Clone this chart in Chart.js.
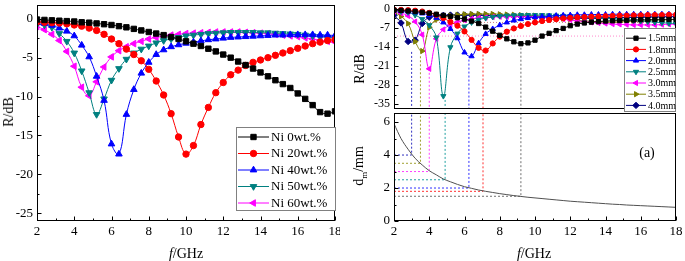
<!DOCTYPE html>
<html>
<head>
<meta charset="utf-8">
<script src="https://cdn.jsdelivr.net/npm/chart.js@4.4.0/dist/chart.umd.min.js"></script>
<style>
body{margin:0;background:#fff;width:685px;height:261px;overflow:hidden;position:relative;font-family:"Liberation Serif",serif}
canvas{position:absolute}
.t{position:absolute;font-size:14px;white-space:nowrap;transform:translate(-50%,-50%)}
.v{transform:translate(-50%,-50%) rotate(-90deg)}
sub{font-size:9px}
</style>
</head>
<body>
<canvas id="leftChart" width="340" height="261" style="left:0;top:0"></canvas>
<canvas id="lossChart" width="345" height="114" style="left:340px;top:0"></canvas>
<canvas id="thickChart" width="345" height="149" style="left:340px;top:112px"></canvas>
<div class="t v" style="left:9px;top:112px">R/dB</div>
<div class="t" style="left:186px;top:254px"><i>f</i>/GHz</div>
<div class="t v" style="left:360px;top:69px">R/dB</div>
<div class="t v" style="left:360px;top:166px">d<sub>m</sub>/mm</div>
<div class="t" style="left:534px;top:254px"><i>f</i>/GHz</div>
<div class="t" style="left:647px;top:153px">(a)</div>
<script>
// frequency points (GHz)
var freq = [2.0,2.4,2.8,3.2,3.6,4.0,4.4,4.8,5.2,5.6,6.0,6.4,6.8,7.2,7.6,8.0,8.4,8.8,9.2,9.6,10.0,
            10.4,10.8,11.2,11.6,12.0,12.4,12.8,13.2,13.6,14.0,14.4,14.8,15.2,15.6,16.0,16.4,16.8,17.2,17.6,18.0];

// left panel: reflection loss for Ni content
var ni0  = [-0.1,-0.15,-0.2,-0.25,-0.3,-0.35,-0.45,-0.5,-0.6,-0.7,-0.8,-0.95,-1.1,-1.3,-1.5,-1.7,-1.9,-2.1,-2.35,-2.6,-2.9,
            -3.2,-3.5,-3.85,-4.2,-4.6,-5.0,-5.5,-5.95,-6.4,-6.9,-7.4,-7.9,-8.4,-8.9,-9.6,-10.3,-11.1,-12.0,-12.2,-11.9];
var ni20 = [-0.4,-0.45,-0.5,-0.55,-0.65,-0.8,-0.95,-1.2,-1.5,-2.0,-2.6,-3.2,-3.9,-4.6,-5.4,-6.5,-8.0,-9.8,-12.2,-15.2,-17.4,
            -16.3,-13.6,-11.4,-9.5,-8.2,-7.2,-6.6,-6.0,-5.6,-5.3,-5.0,-4.7,-4.4,-4.1,-3.8,-3.5,-3.2,-3.0,-2.8,-2.7];
var ni40 = [-0.5,-0.6,-0.85,-1.2,-1.6,-2.2,-3.4,-4.9,-7.4,-10.5,-16.1,-17.4,-12.3,-9.1,-7.0,-5.6,-4.6,-4.0,-3.6,-3.35,-3.15,
            -3.0,-2.85,-2.7,-2.6,-2.5,-2.4,-2.35,-2.3,-2.25,-2.2,-2.15,-2.1,-2.1,-2.05,-2.05,-2.05,-2.05,-2.1,-2.1,-2.15];
var ni50 = [-0.7,-0.8,-1.1,-1.9,-2.9,-4.4,-6.7,-9.5,-12.3,-10.3,-7.9,-6.4,-5.2,-4.4,-3.9,-3.5,-3.1,-2.8,-2.6,-2.4,-2.2,
            -2.1,-2.0,-1.9,-1.85,-1.8,-1.75,-1.75,-1.75,-1.75,-1.8,-1.8,-1.85,-1.9,-1.95,-2.0,-2.1,-2.2,-2.3,-2.4,-2.5];
var ni60 = [-1.0,-1.4,-2.0,-2.8,-4.2,-6.1,-8.8,-9.9,-8.1,-6.2,-4.9,-4.1,-3.6,-3.2,-2.9,-2.6,-2.4,-2.25,-2.1,-2.0,-1.9,
            -1.85,-1.8,-1.75,-1.7,-1.7,-1.7,-1.7,-1.75,-1.8,-1.85,-1.9,-2.0,-2.1,-2.2,-2.3,-2.45,-2.6,-2.75,-2.9,-3.0];
var leftNames = ['Ni 0wt.%','Ni 20wt.%','Ni 40wt.%','Ni 50wt.%','Ni 60wt.%'];

// right panel: reflection loss for absorber thickness
var r15 = [-0.5,-0.6,-0.8,-1.0,-1.3,-1.6,-2.0,-2.4,-2.8,-3.3,-3.8,-4.5,-5.4,-6.7,-8.2,-9.7,-11.0,-12.1,-12.8,-12.5,-11.5,
           -10.0,-9.0,-8.0,-7.2,-6.2,-5.6,-5.2,-4.9,-4.7,-4.5,-4.4,-4.3,-4.2,-4.1,-4.0,-4.0,-3.9,-3.9,-3.9,-3.9];
var r18 = [-0.3,-0.4,-0.5,-0.7,-1.0,-1.5,-2.2,-3.4,-4.8,-6.2,-8.3,-11.4,-14.3,-15.3,-12.7,-10.2,-8.4,-7.2,-6.3,-5.6,-5.0,
           -4.5,-4.1,-3.8,-3.5,-3.3,-3.1,-3.0,-2.9,-2.8,-2.7,-2.6,-2.5,-2.5,-2.4,-2.4,-2.3,-2.3,-2.3,-2.2,-2.2];
var r20 = [-0.6,-0.8,-1.0,-1.3,-1.7,-2.3,-3.3,-5.0,-7.4,-10.8,-16.0,-17.4,-12.6,-9.2,-7.4,-6.0,-5.0,-4.3,-3.8,-3.4,-3.1,
           -2.9,-2.7,-2.5,-2.4,-2.3,-2.2,-2.2,-2.1,-2.1,-2.1,-2.0,-2.0,-2.0,-2.0,-2.0,-2.0,-2.0,-2.0,-2.0,-2.0];
var r25 = [-0.8,-1.0,-1.3,-2.3,-3.8,-6.0,-10.5,-32.0,-14.1,-9.1,-6.5,-5.0,-4.0,-3.4,-3.0,-2.7,-2.5,-2.4,-2.3,-2.3,-2.3,
           -2.3,-2.4,-2.5,-2.6,-2.7,-2.8,-3.0,-3.1,-3.3,-3.5,-3.7,-3.9,-4.1,-4.3,-4.5,-4.7,-4.9,-5.1,-5.3,-5.4];
var r30 = [-1.0,-1.6,-2.6,-4.7,-9.5,-22.0,-11.0,-7.6,-5.9,-4.9,-4.2,-3.7,-3.4,-3.2,-3.0,-2.9,-2.9,-2.9,-2.9,-2.95,-3.0,
           -3.1,-3.3,-3.5,-3.8,-4.1,-4.4,-4.7,-5.0,-5.2,-5.4,-5.6,-5.7,-5.8,-5.9,-5.9,-5.9,-5.9,-5.8,-5.7,-5.6];
var r35 = [-1.2,-2.8,-5.4,-12.0,-15.5,-6.8,-4.0,-3.0,-2.5,-2.2,-2.0,-1.9,-1.9,-1.9,-1.9,-2.0,-2.1,-2.2,-2.3,-2.4,-2.5,
           -2.7,-2.9,-3.2,-3.6,-4.0,-4.3,-4.5,-4.7,-4.8,-4.9,-4.9,-4.8,-4.7,-4.6,-4.5,-4.3,-4.2,-4.1,-4.0,-3.9];
var r40 = [-2.4,-5.2,-12.0,-11.5,-5.4,-3.1,-2.6,-2.4,-2.3,-2.3,-2.3,-2.3,-2.3,-2.4,-2.4,-2.5,-2.6,-2.7,-2.8,-2.9,-3.0,
           -3.1,-3.2,-3.3,-3.3,-3.4,-3.4,-3.4,-3.4,-3.4,-3.3,-3.3,-3.2,-3.2,-3.1,-3.1,-3.0,-3.0,-3.0,-2.9,-2.9];
var rightNames = ['1.5mm','1.8mm','2.0mm','2.5mm','3.0mm','3.5mm','4.0mm'];

// matching thickness curve (mm)
var dm = [5.9,5.0,4.35,3.8,3.4,3.05,2.8,2.55,2.38,2.22,2.08,1.98,1.88,1.8,1.73,1.66,1.6,1.54,1.49,1.44,1.4,
          1.36,1.32,1.28,1.24,1.2,1.17,1.14,1.11,1.08,1.05,1.02,1.0,0.97,0.95,0.93,0.91,0.89,0.87,0.85,0.83];

// minimum of each thickness curve
var thick   = [1.5, 1.8, 2.0, 2.5, 3.0, 3.5, 4.0];
var minFreq = [9.2, 7.05, 6.25, 4.9, 4.0, 3.5, 3.0];
var minLoss = [-12.8, -15.3, -18.6, -33.4, -22.0, -17.4, -15.8];
var refLevels = [-5, -10];

// tick labels
var xTicks = [2,4,6,8,10,12,14,16,18];
var xMinor = [3,5,7,9,11,13,15,17];
var leftYTicks = [-25,-20,-15,-10,-5,0];
var leftYMinor = [-22.5,-17.5,-12.5,-7.5,-2.5];
var lossTicks = [0,-7,-14,-21,-28,-35];
var lossMinor = [-3.5,-10.5,-17.5,-24.5,-31.5];
var dmTicks = [0,2,4,6];
var dmMinor = [1,3,5];

var leftStyles = [
  {c:'#000000', p:'rect', r:3.8},
  {c:'#ff0000', p:'circle', r:3.2},
  {c:'#0000ff', p:'triangle', r:3.8},
  {c:'#008080', p:'triangle', r:3.8, rot:180},
  {c:'#ff00ff', p:'triangle', r:3.8, rot:270}
];
var rightStyles = [
  {c:'#000000', p:'rect', r:3.0},
  {c:'#ff0000', p:'circle', r:2.6},
  {c:'#0000ff', p:'triangle', r:3.0},
  {c:'#008080', p:'triangle', r:3.0, rot:180},
  {c:'#ff00ff', p:'triangle', r:3.0, rot:270},
  {c:'#808000', p:'triangle', r:3.0, rot:90},
  {c:'#000080', p:'rectRot', r:3.2}
];
var dashColors = ['#707070','#ff3030','#3030ff','#20a0a0','#ff40ff','#a0a030','#3030c0'];

var serif = '"Liberation Serif", serif';

function xy(xs, ys) {
  return xs.map(function (x, i) { return {x: x, y: ys[i]}; });
}

function series(label, ys, s) {
  return {
    label: label, data: xy(freq, ys),
    borderColor: s.c, backgroundColor: s.c, borderWidth: 1,
    pointStyle: s.p, pointRotation: s.rot || 0, pointRadius: s.r,
    pointBorderWidth: 1, pointBorderColor: s.c, pointBackgroundColor: s.c,
    tension: 0.4
  };
}

function helperLine(points, color, dash) {
  return {data: points, borderColor: color, borderWidth: 1, borderDash: dash,
          pointRadius: 0, tension: 0, fill: false};
}

function setTicks(list) {
  return function (s) { s.ticks = list.map(function (v) { return {value: v}; }); };
}

// frame and inward ticks, drawn like the original plotting software
var frameTicks = {
  id: 'frameTicks',
  afterDatasetsDraw: function (chart, args, o) {
    var ctx = chart.ctx, a = chart.chartArea, sx = chart.scales.x, sy = chart.scales.y;
    var L = Math.round(a.left) + 0.5, R = Math.round(a.right) - 0.5;
    var T = Math.round(a.top) + 0.5, B = Math.round(a.bottom) - 0.5;
    ctx.save();
    ctx.strokeStyle = '#000';
    ctx.lineWidth = 1;
    ctx.setLineDash([]);
    ctx.strokeRect(L, T, R - L, B - T);
    ctx.beginPath();
    function xt(list, len) {
      (list || []).forEach(function (v) {
        var x = Math.round(sx.getPixelForValue(v)) + 0.5;
        ctx.moveTo(x, B); ctx.lineTo(x, B - len);
      });
    }
    function yt(list, len) {
      (list || []).forEach(function (v) {
        var y = Math.round(sy.getPixelForValue(v)) + 0.5;
        ctx.moveTo(L, y); ctx.lineTo(L + len, y);
      });
    }
    xt(o.xMajor, 4); xt(o.xMinor, 2);
    yt(o.yMajor, 4); yt(o.yMinor, 2);
    ctx.stroke();
    ctx.restore();
  }
};

var boxLegend = {
  id: 'boxLegend',
  afterDraw: function (chart, args, o) {
    if (!o || !o.count) return;
    var ctx = chart.ctx;
    ctx.save();
    ctx.fillStyle = '#fff';
    ctx.fillRect(o.x, o.y, o.w, o.h);
    ctx.strokeStyle = '#808080';
    ctx.lineWidth = 1;
    ctx.strokeRect(o.x + 0.5, o.y + 0.5, o.w, o.h);
    ctx.font = o.font;
    ctx.textBaseline = 'middle';
    for (var i = 0; i < o.count; i++) {
      var ds = chart.data.datasets[i];
      var y = o.y + o.first + i * o.step;
      var x0 = o.x + 2;
      ctx.strokeStyle = ds.borderColor;
      ctx.beginPath();
      ctx.moveTo(x0, y + 0.5); ctx.lineTo(x0 + o.len, y + 0.5);
      ctx.stroke();
      ctx.fillStyle = ds.backgroundColor;
      if (Chart.helpers && Chart.helpers.drawPoint) {
        Chart.helpers.drawPoint(ctx, {pointStyle: ds.pointStyle, rotation: ds.pointRotation,
          radius: ds.pointRadius, borderWidth: 1}, x0 + o.len / 2, y + 0.5);
      } else {
        ctx.beginPath(); ctx.arc(x0 + o.len / 2, y + 0.5, ds.pointRadius, 0, Math.PI * 2); ctx.fill();
      }
      ctx.fillStyle = '#000';
      ctx.fillText(ds.label, x0 + o.len + 2, y + 1);
    }
    ctx.restore();
  }
};

function xScale(show, size) {
  return {
    type: 'linear', min: 2, max: 18, display: show,
    afterBuildTicks: setTicks(xTicks),
    afterFit: function (s) { s.height = show ? 40 : 0; s.paddingLeft = 0; s.paddingRight = 0; },
    grid: {display: false, drawTicks: false}, border: {display: false},
    ticks: {font: {family: serif, size: size}, color: '#000', padding: 3, maxRotation: 0, autoSkip: false}
  };
}

function yScale(min, max, list, width, size) {
  return {
    type: 'linear', min: min, max: max,
    afterBuildTicks: setTicks(list),
    afterFit: function (s) { s.width = width; s.paddingTop = 0; s.paddingBottom = 0; },
    grid: {display: false, drawTicks: false}, border: {display: false},
    ticks: {font: {family: serif, size: size}, color: '#000', padding: 4, autoSkip: false}
  };
}

var common = {responsive: false, animation: false, events: []};

// left panel
new Chart(document.getElementById('leftChart'), {
  type: 'line',
  data: {datasets: [ni0, ni20, ni40, ni50, ni60].map(function (ys, i) {
    return series(leftNames[i], ys, leftStyles[i]);
  })},
  options: Object.assign({}, common, {
    layout: {padding: {top: 1, right: 5, left: 0, bottom: 0}},
    plugins: {
      legend: {display: false}, tooltip: {enabled: false},
      frameTicks: {xMajor: xTicks, xMinor: xMinor, yMajor: leftYTicks, yMinor: leftYMinor},
      boxLegend: {count: 5, x: 236, y: 127, w: 99, h: 83, first: 9.5, step: 16.5, len: 31,
                  font: '13px ' + serif}
    },
    scales: {x: xScale(true, 13), y: yScale(-26, 1.77, leftYTicks, 37, 13)}
  }),
  plugins: [frameTicks, boxLegend]
});

// right panel, top: reflection loss
var lossMin = -36.73, lossMax = 1.39;
var lossSets = [r15, r18, r20, r25, r30, r35, r40].map(function (ys, i) {
  return series(rightNames[i], ys, rightStyles[i]);
});
thick.forEach(function (t, i) {
  lossSets.push(helperLine([{x: minFreq[i], y: minLoss[i]}, {x: minFreq[i], y: lossMin}], dashColors[i], [2, 2]));
});
lossSets.push(helperLine([{x: 2, y: refLevels[0]}, {x: 18, y: refLevels[0]}], '#c88080', [1, 2]));
lossSets.push(helperLine([{x: 2, y: refLevels[1]}, {x: 18, y: refLevels[1]}], '#ff88cc', [1, 2]));

new Chart(document.getElementById('lossChart'), {
  type: 'line',
  data: {datasets: lossSets},
  options: Object.assign({}, common, {
    layout: {padding: {top: 3, right: 9, left: 0, bottom: 1}},
    plugins: {
      legend: {display: false}, tooltip: {enabled: false},
      frameTicks: {yMajor: lossTicks, yMinor: lossMinor},
      boxLegend: {count: 7, x: 284, y: 28, w: 51, h: 83, first: 9.7, step: 11.2, len: 20,
                  font: '10px ' + serif}
    },
    scales: {x: xScale(false, 13), y: yScale(lossMin, lossMax, lossTicks, 54, 12)}
  }),
  plugins: [frameTicks, boxLegend]
});

// right panel, bottom: matching thickness
var dmMax = 6.55;
var dmSets = [{data: xy(freq, dm), borderColor: '#505050', borderWidth: 1, pointRadius: 0,
               tension: 0.4, cubicInterpolationMode: 'monotone'}];
thick.forEach(function (t, i) {
  dmSets.push(helperLine([{x: 2, y: t}, {x: minFreq[i], y: t}, {x: minFreq[i], y: dmMax}], dashColors[i], [2, 2]));
});

new Chart(document.getElementById('thickChart'), {
  type: 'line',
  data: {datasets: dmSets},
  options: Object.assign({}, common, {
    layout: {padding: {top: 1, right: 9, left: 0, bottom: 0}},
    plugins: {
      legend: {display: false}, tooltip: {enabled: false},
      frameTicks: {xMajor: xTicks, xMinor: xMinor, yMajor: dmTicks, yMinor: dmMinor}
    },
    scales: {x: xScale(true, 13), y: yScale(0, dmMax, dmTicks, 54, 13)}
  }),
  plugins: [frameTicks]
});
</script>
</body>
</html>
